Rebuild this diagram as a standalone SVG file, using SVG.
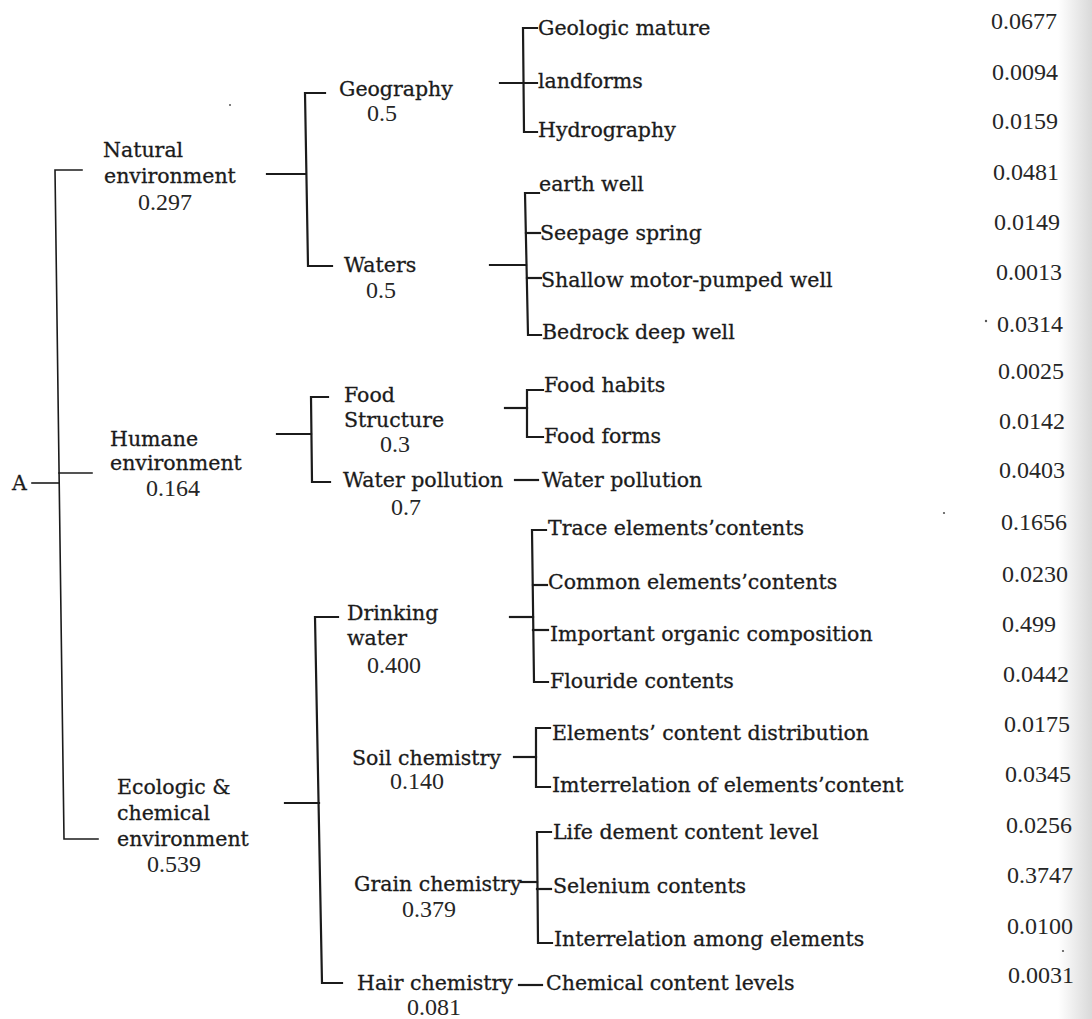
<svg xmlns="http://www.w3.org/2000/svg" width="1092" height="1019" viewBox="0 0 1092 1019">
<style>
.t{font-family:"DejaVu Serif",serif;font-size:20.5px;fill:#1b1b1b;stroke:#1b1b1b;stroke-width:0.3}
.n{font-family:"Liberation Serif",serif;font-size:24px;fill:#262626}
.c{stroke:#1b1b1b;stroke-width:2.2;fill:none;stroke-linecap:square;stroke-linejoin:miter}
.r{stroke-width:1.6}
</style>
<defs>
<linearGradient id="edge" x1="0" y1="0" x2="1" y2="0">
<stop offset="0" stop-color="#ffffff"/>
<stop offset="0.5" stop-color="#ececec"/>
<stop offset="1" stop-color="#d9d9d9"/>
</linearGradient>
</defs>
<rect width="1092" height="1019" fill="#ffffff"/>
<rect x="1058" y="0" width="34" height="1019" fill="url(#edge)"/>

<g id="connectors">
<path class="c r" d="M82,170 H55 L64,839 H98"/>
<path class="c r" d="M32,483 H59"/>
<path class="c r" d="M59,473 H92"/>
<path class="c" d="M267,174 H305"/>
<path class="c" d="M325,93 H305 L308,266 H332"/>
<path class="c" d="M500,83 H537"/>
<path class="c" d="M537,28 H523 L524,132 H537"/>
<path class="c" d="M490,265 H526"/>
<path class="c" d="M539,193 H525 L528,335 H541"/>
<path class="c" d="M526,233 H540"/>
<path class="c" d="M527,278 H541"/>
<path class="c" d="M277,434 H311"/>
<path class="c" d="M328,397 H311 L312,482 H330"/>
<path class="c" d="M505,408 H527"/>
<path class="c" d="M543,390 H527 V437 H543"/>
<path class="c" d="M515,480 H538"/>
<path class="c" d="M285,803 H319"/>
<path class="c" d="M338,617 H315 L322,983 H342"/>
<path class="c" d="M510,617 H533"/>
<path class="c" d="M546,530 H532 L534,682 H548"/>
<path class="c" d="M533,585 H547"/>
<path class="c" d="M533,630 H548"/>
<path class="c" d="M514,757 H536"/>
<path class="c" d="M550,728 H536 V787 H550"/>
<path class="c" d="M521,882 H537"/>
<path class="c" d="M551,832 H537 L538,943 H552"/>
<path class="c" d="M537,889 H551"/>
<path class="c" d="M519,985 H542"/>
</g>

<g id="root"><text class="t" x="12" y="490">A</text></g>

<g id="natural-environment">
<text class="t" x="103" y="157">Natural</text>
<text class="t" x="104" y="183">environment</text>
<text class="n" x="138" y="210">0.297</text>
</g>
<g id="geography">
<text class="t" x="339" y="96">Geography</text>
<text class="n" x="367" y="121">0.5</text>
</g>
<g id="waters">
<text class="t" x="344" y="272">Waters</text>
<text class="n" x="366" y="298">0.5</text>
</g>
<g id="humane-environment">
<text class="t" x="110" y="446">Humane</text>
<text class="t" x="110" y="470">environment</text>
<text class="n" x="146" y="496">0.164</text>
</g>
<g id="food-structure">
<text class="t" x="344" y="402">Food</text>
<text class="t" x="344" y="427">Structure</text>
<text class="n" x="380" y="452">0.3</text>
</g>
<g id="water-pollution">
<text class="t" x="343" y="487">Water pollution</text>
<text class="n" x="391" y="515">0.7</text>
</g>
<g id="ecologic-chemical-environment">
<text class="t" x="117" y="794">Ecologic &amp;</text>
<text class="t" x="117" y="820">chemical</text>
<text class="t" x="117" y="846">environment</text>
<text class="n" x="147" y="872">0.539</text>
</g>
<g id="drinking-water">
<text class="t" x="347" y="620">Drinking</text>
<text class="t" x="347" y="645">water</text>
<text class="n" x="367" y="673">0.400</text>
</g>
<g id="soil-chemistry">
<text class="t" x="352" y="765">Soil chemistry</text>
<text class="n" x="390" y="789">0.140</text>
</g>
<g id="grain-chemistry">
<text class="t" x="354" y="891">Grain chemistry</text>
<text class="n" x="402" y="917">0.379</text>
</g>
<g id="hair-chemistry">
<text class="t" x="357" y="990">Hair chemistry</text>
<text class="n" x="407" y="1015">0.081</text>
</g>

<g id="leaf-geologic-mature"><text class="t" x="538" y="35">Geologic mature</text><text class="n" x="991" y="29">0.0677</text></g>
<g id="leaf-landforms"><text class="t" x="538" y="88">landforms</text><text class="n" x="992" y="80">0.0094</text></g>
<g id="leaf-hydrography"><text class="t" x="538" y="137">Hydrography</text><text class="n" x="992" y="129">0.0159</text></g>
<g id="leaf-earth-well"><text class="t" x="539" y="191">earth well</text><text class="n" x="993" y="180">0.0481</text></g>
<g id="leaf-seepage-spring"><text class="t" x="540" y="240">Seepage spring</text><text class="n" x="994" y="230">0.0149</text></g>
<g id="leaf-shallow-well"><text class="t" x="541" y="287">Shallow motor-pumped well</text><text class="n" x="996" y="280">0.0013</text></g>
<g id="leaf-bedrock-well"><text class="t" x="542" y="339">Bedrock deep well</text><text class="n" x="997" y="332">0.0314</text></g>
<g id="leaf-food-habits"><text class="t" x="544" y="392">Food habits</text><text class="n" x="998" y="379">0.0025</text></g>
<g id="leaf-food-forms"><text class="t" x="544" y="443">Food forms</text><text class="n" x="999" y="429">0.0142</text></g>
<g id="leaf-water-pollution"><text class="t" x="542" y="487">Water pollution</text><text class="n" x="999" y="478">0.0403</text></g>
<g id="leaf-trace"><text class="t" x="548" y="535">Trace elements’contents</text><text class="n" x="1001" y="530">0.1656</text></g>
<g id="leaf-common"><text class="t" x="548" y="589">Common elements’contents</text><text class="n" x="1002" y="582">0.0230</text></g>
<g id="leaf-organic"><text class="t" x="550" y="641">Important organic composition</text><text class="n" x="1002" y="632">0.499</text></g>
<g id="leaf-flouride"><text class="t" x="550" y="688">Flouride contents</text><text class="n" x="1003" y="682">0.0442</text></g>
<g id="leaf-distribution"><text class="t" x="552" y="740">Elements’ content distribution</text><text class="n" x="1004" y="732">0.0175</text></g>
<g id="leaf-imterrelation"><text class="t" x="552" y="792">Imterrelation of elements’content</text><text class="n" x="1005" y="782">0.0345</text></g>
<g id="leaf-life-dement"><text class="t" x="553" y="839">Life dement content level</text><text class="n" x="1006" y="833">0.0256</text></g>
<g id="leaf-selenium"><text class="t" x="553" y="893">Selenium contents</text><text class="n" x="1007" y="883">0.3747</text></g>
<g id="leaf-interrelation"><text class="t" x="554" y="946">Interrelation among elements</text><text class="n" x="1007" y="934">0.0100</text></g>
<g id="leaf-chemical-levels"><text class="t" x="546" y="990">Chemical content levels</text><text class="n" x="1008" y="983">0.0031</text></g>

<g fill="#555">
<circle cx="986" cy="321" r="1.2"/>
<circle cx="944" cy="513" r="1.1"/>
<circle cx="1063" cy="951" r="1.1"/>
<circle cx="230" cy="105" r="1"/>
</g>
</svg>
